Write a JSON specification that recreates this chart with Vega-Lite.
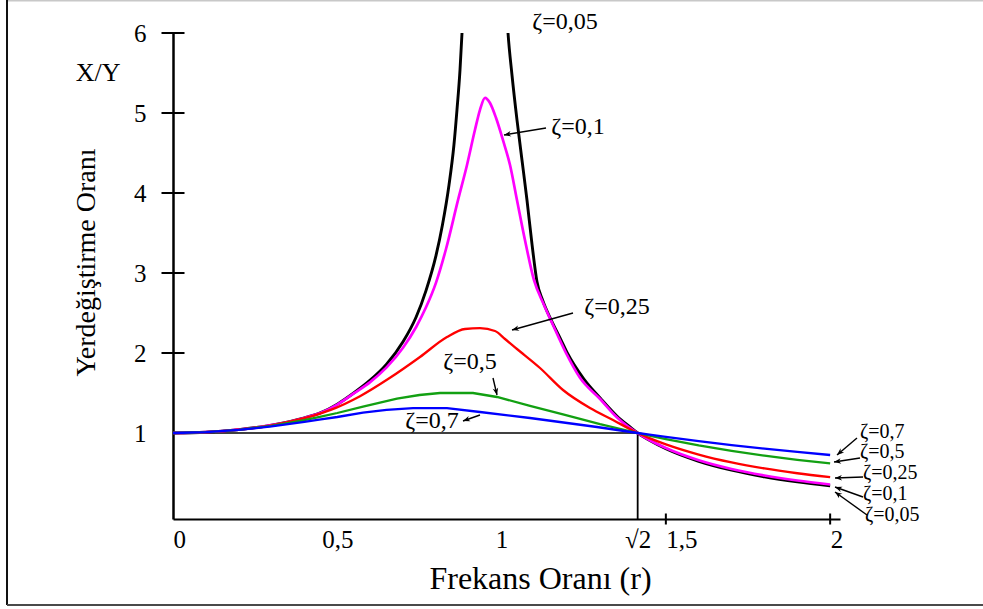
{
  "$schema": "https://vega.github.io/schema/vega-lite/v6.json",
  "width": 667,
  "height": 486,
  "autosize": {"type": "none"},
  "padding": {"left": 173, "top": 33, "right": 143, "bottom": 90},
  "background": "#ffffff",
  "config": {"view": {"stroke": null}, "font": "Liberation Serif"},
  "datasets": {
    "z005": [
      {"r": 0, "T": 1}, {"r": 0.1, "T": 1.01}, {"r": 0.2, "T": 1.042}, {"r": 0.3, "T": 1.099},
      {"r": 0.4, "T": 1.19}, {"r": 0.45, "T": 1.254}, {"r": 0.5, "T": 1.36}, {"r": 0.55, "T": 1.5},
      {"r": 0.6, "T": 1.66}, {"r": 0.65, "T": 1.86}, {"r": 0.7, "T": 2.14}, {"r": 0.74, "T": 2.45},
      {"r": 0.77, "T": 2.78}, {"r": 0.8, "T": 3.21}, {"r": 0.82, "T": 3.6}, {"r": 0.84, "T": 4.1},
      {"r": 0.855, "T": 4.6}, {"r": 0.8643, "T": 5.04}, {"r": 0.8735, "T": 5.54}, {"r": 0.8796, "T": 6.0},
      {"r": 0.893, "T": 7.4}, {"r": 0.915, "T": 9.0}, {"r": 0.945, "T": 10.0}, {"r": 0.975, "T": 9.5},
      {"r": 1.0, "T": 7.6}, {"r": 1.0196, "T": 6.0}, {"r": 1.0317, "T": 5.475}, {"r": 1.047, "T": 4.91},
      {"r": 1.0622, "T": 4.41}, {"r": 1.0774, "T": 3.91}, {"r": 1.0926, "T": 3.36}, {"r": 1.1078, "T": 2.89},
      {"r": 1.125, "T": 2.66}, {"r": 1.15, "T": 2.42}, {"r": 1.18, "T": 2.17}, {"r": 1.2, "T": 2.0}, {"r": 1.25, "T": 1.677},
      {"r": 1.3, "T": 1.437}, {"r": 1.35, "T": 1.216}, {"r": 1.3909, "T": 1.075}, {"r": 1.4142, "T": 1.0},
      {"r": 1.45, "T": 0.909}, {"r": 1.5, "T": 0.803}, {"r": 1.6, "T": 0.646}, {"r": 1.7, "T": 0.535},
      {"r": 1.8, "T": 0.452}, {"r": 1.9, "T": 0.389}, {"r": 2.0, "T": 0.339}
    ],
    "z01": [
      {"r": 0, "T": 1}, {"r": 0.1, "T": 1.01}, {"r": 0.2, "T": 1.042}, {"r": 0.3, "T": 1.098},
      {"r": 0.4, "T": 1.188}, {"r": 0.45, "T": 1.252}, {"r": 0.5, "T": 1.355}, {"r": 0.55, "T": 1.494},
      {"r": 0.6, "T": 1.636}, {"r": 0.65, "T": 1.82}, {"r": 0.7, "T": 2.065}, {"r": 0.74, "T": 2.325},
      {"r": 0.77, "T": 2.571}, {"r": 0.8, "T": 2.874}, {"r": 0.8309, "T": 3.3}, {"r": 0.8674, "T": 3.91},
      {"r": 0.8948, "T": 4.35}, {"r": 0.9191, "T": 4.79}, {"r": 0.9343, "T": 5.04}, {"r": 0.9496, "T": 5.19},
      {"r": 0.9648, "T": 5.125}, {"r": 0.983, "T": 4.94}, {"r": 1.0043, "T": 4.66}, {"r": 1.0257, "T": 4.35},
      {"r": 1.047, "T": 3.91}, {"r": 1.0713, "T": 3.41}, {"r": 1.0987, "T": 2.91}, {"r": 1.1291, "T": 2.6},
      {"r": 1.1565, "T": 2.35}, {"r": 1.1961, "T": 2.0}, {"r": 1.2387, "T": 1.69}, {"r": 1.3, "T": 1.425},
      {"r": 1.35, "T": 1.2}, {"r": 1.3848, "T": 1.08}, {"r": 1.4142, "T": 1.0}, {"r": 1.45, "T": 0.913},
      {"r": 1.5, "T": 0.812}, {"r": 1.6, "T": 0.659}, {"r": 1.7, "T": 0.55}, {"r": 1.8, "T": 0.469},
      {"r": 1.9, "T": 0.406}, {"r": 2.0, "T": 0.356}
    ],
    "z025": [
      {"r": 0, "T": 1}, {"r": 0.1, "T": 1.01}, {"r": 0.2, "T": 1.041}, {"r": 0.3, "T": 1.096},
      {"r": 0.4, "T": 1.185}, {"r": 0.45, "T": 1.245}, {"r": 0.4778, "T": 1.285}, {"r": 0.5691, "T": 1.46},
      {"r": 0.6604, "T": 1.69}, {"r": 0.7517, "T": 1.95}, {"r": 0.8339, "T": 2.2}, {"r": 0.8887, "T": 2.3},
      {"r": 0.9343, "T": 2.31}, {"r": 0.98, "T": 2.275}, {"r": 1.0104, "T": 2.175}, {"r": 1.047, "T": 2.05},
      {"r": 1.117, "T": 1.8125}, {"r": 1.187, "T": 1.5375}, {"r": 1.2691, "T": 1.3125}, {"r": 1.3391, "T": 1.1625},
      {"r": 1.4142, "T": 1.0}, {"r": 1.45, "T": 0.936}, {"r": 1.5, "T": 0.858}, {"r": 1.6, "T": 0.731},
      {"r": 1.7, "T": 0.633}, {"r": 1.8, "T": 0.557}, {"r": 1.9, "T": 0.497}, {"r": 2.0, "T": 0.447}
    ],
    "z05": [
      {"r": 0, "T": 1}, {"r": 0.1, "T": 1.01}, {"r": 0.2, "T": 1.04}, {"r": 0.3, "T": 1.09},
      {"r": 0.4, "T": 1.16}, {"r": 0.45, "T": 1.205}, {"r": 0.5, "T": 1.25}, {"r": 0.5783, "T": 1.33},
      {"r": 0.6817, "T": 1.43}, {"r": 0.75, "T": 1.475}, {"r": 0.8126, "T": 1.5}, {"r": 0.913, "T": 1.5},
      {"r": 0.9861, "T": 1.45}, {"r": 1.0865, "T": 1.34}, {"r": 1.187, "T": 1.233}, {"r": 1.2996, "T": 1.11},
      {"r": 1.4142, "T": 1.0}, {"r": 1.45, "T": 0.967}, {"r": 1.5, "T": 0.923}, {"r": 1.6, "T": 0.844},
      {"r": 1.7, "T": 0.776}, {"r": 1.8, "T": 0.717}, {"r": 1.9, "T": 0.665}, {"r": 2.0, "T": 0.62}
    ],
    "z07": [
      {"r": 0, "T": 1}, {"r": 0.1, "T": 1.01}, {"r": 0.2, "T": 1.038}, {"r": 0.3, "T": 1.082},
      {"r": 0.4, "T": 1.14}, {"r": 0.45, "T": 1.17}, {"r": 0.5, "T": 1.2}, {"r": 0.5783, "T": 1.255},
      {"r": 0.65, "T": 1.29}, {"r": 0.7304, "T": 1.31}, {"r": 0.8339, "T": 1.31}, {"r": 0.9343, "T": 1.2625},
      {"r": 1.0865, "T": 1.1875}, {"r": 1.2904, "T": 1.075}, {"r": 1.4142, "T": 1.0}, {"r": 1.45, "T": 0.98},
      {"r": 1.5, "T": 0.952}, {"r": 1.6, "T": 0.899}, {"r": 1.7, "T": 0.849}, {"r": 1.8, "T": 0.804},
      {"r": 1.9, "T": 0.763}, {"r": 2.0, "T": 0.725}
    ],
    "yTicks": [{"v": 2}, {"v": 3}, {"v": 4}, {"v": 5}, {"v": 6}],
    "xTicks": [{"v": 1.5}, {"v": 2}],
    "peakLabels": [
      {"label": "ζ=0,05", "r": 1.193, "T": 6.1375},
      {"label": "ζ=0,1", "r": 1.2326, "T": 4.825},
      {"label": "ζ=0,25", "r": 1.3513, "T": 2.575},
      {"label": "ζ=0,5", "r": 0.9039, "T": 1.8875},
      {"label": "ζ=0,7", "r": 0.7883, "T": 1.15}
    ],
    "endLabels": [
      {"label": "ζ=0,7", "r": 2.0909, "T": 1.0125},
      {"label": "ζ=0,5", "r": 2.0909, "T": 0.7625},
      {"label": "ζ=0,25", "r": 2.1, "T": 0.5},
      {"label": "ζ=0,1", "r": 2.1, "T": 0.2375},
      {"label": "ζ=0,05", "r": 2.1061, "T": -0.025}
    ],
    "arrows": [
      {"fx": 1.1352, "fy": 4.8125, "tx": 1.0074, "ty": 4.725},
      {"fx": 1.2174, "fy": 2.5, "tx": 1.0317, "ty": 2.2875},
      {"fx": 0.9739, "fy": 1.6875, "tx": 0.9861, "ty": 1.475},
      {"fx": 0.9343, "fy": 1.225, "tx": 0.8826, "ty": 1.15},
      {"fx": 2.0817, "fy": 0.9375, "tx": 2.0209, "ty": 0.725},
      {"fx": 2.0909, "fy": 0.6875, "tx": 2.0118, "ty": 0.6375},
      {"fx": 2.1, "fy": 0.45, "tx": 2.0148, "ty": 0.4375},
      {"fx": 2.1, "fy": 0.2, "tx": 2.0148, "ty": 0.325},
      {"fx": 2.1122, "fy": -0.025, "tx": 2.0148, "ty": 0.2625}
    ]
  },
  "layer": [
    {
      "data": {"name": "z005"},
      "mark": {"type": "line", "color": "#000000", "strokeWidth": 2.9, "interpolate": "monotone", "clip": true},
      "encoding": {
        "x": {
          "field": "r", "type": "quantitative",
          "scale": {"domain": [0, 2.03], "nice": false, "zero": false},
          "axis": {
            "values": [0, 0.5, 1, 1.4142135623730951, 1.5, 2],
            "labelExpr": "datum.value == 0 ? '0' : datum.value == 0.5 ? '0,5' : datum.value == 1 ? '1' : datum.value == 1.5 ? '1,5' : datum.value == 2 ? '2' : '√2'",
            "labelAlign": {"condition": {"test": "datum.value == 0 || datum.value == 1.5 || datum.value == 2", "value": "left"}, "value": "center"},
            "ticks": false, "grid": false,
            "domainColor": "#000000", "domainWidth": 2,
            "labelFont": "Liberation Serif", "labelFontSize": 25, "labelColor": "#000000",
            "labelPadding": 8, "labelOverlap": false, "labelFlush": false, "labelBound": false,
            "title": "Frekans Oranı (r)", "titleFont": "Liberation Serif", "titleFontSize": 32,
            "titleFontWeight": "normal", "titleColor": "#000000",
            "titleX": 367, "titleY": 59, "titleAlign": "center", "titleBaseline": "middle"
          }
        },
        "y": {
          "field": "T", "type": "quantitative",
          "scale": {"domain": [-0.075, 6], "nice": false, "zero": false},
          "axis": {
            "values": [1, 2, 3, 4, 5, 6], "format": "d",
            "ticks": false, "grid": false,
            "domainColor": "#000000", "domainWidth": 2.5,
            "labelFont": "Liberation Serif", "labelFontSize": 25, "labelColor": "#000000",
            "labelPadding": 27, "labelOverlap": false, "labelFlush": false,
            "title": "Yerdeğiştirme Oranı", "titleFont": "Liberation Serif", "titleFontSize": 28,
            "titleFontWeight": "normal", "titleColor": "#000000", "titleAngle": -90,
            "titleX": -87, "titleY": 229, "titleAlign": "center", "titleBaseline": "middle"
          }
        }
      }
    },
    {
      "data": {"values": [{}]},
      "mark": {"type": "rule", "color": "#c8c8c8", "strokeWidth": 1.5},
      "encoding": {
        "x": {"datum": -0.5052, "type": "quantitative", "scale": {"domain": [0, 2.03], "nice": false, "zero": false}},
        "x2": {"datum": 2.4652},
        "y": {"datum": 6.403, "type": "quantitative", "scale": {"domain": [-0.075, 6], "nice": false, "zero": false}}
      }
    },
    {
      "data": {"values": [{}]},
      "mark": {"type": "rule", "color": "#111111", "strokeWidth": 2},
      "encoding": {
        "x": {"datum": -0.5052, "type": "quantitative", "scale": {"domain": [0, 2.03], "nice": false, "zero": false}},
        "y": {"datum": 6.4125, "type": "quantitative", "scale": {"domain": [-0.075, 6], "nice": false, "zero": false}},
        "y2": {"datum": -1.15}
      }
    },
    {
      "data": {"values": [{}]},
      "mark": {"type": "rule", "color": "#4a4a4a", "strokeWidth": 2},
      "encoding": {
        "x": {"datum": -0.5052, "type": "quantitative", "scale": {"domain": [0, 2.03], "nice": false, "zero": false}},
        "x2": {"datum": 2.4652},
        "y": {"datum": -1.15, "type": "quantitative", "scale": {"domain": [-0.075, 6], "nice": false, "zero": false}}
      }
    },
    {
      "data": {"values": [{}]},
      "mark": {"type": "rule", "color": "#000000", "strokeWidth": 1.6},
      "encoding": {
        "x": {"datum": 0, "type": "quantitative", "scale": {"domain": [0, 2.03], "nice": false, "zero": false}},
        "x2": {"datum": 1.4142},
        "y": {"datum": 1, "type": "quantitative", "scale": {"domain": [-0.075, 6], "nice": false, "zero": false}}
      }
    },
    {
      "data": {"values": [{}]},
      "mark": {"type": "rule", "color": "#000000", "strokeWidth": 1.8},
      "encoding": {
        "x": {"datum": 1.4142, "type": "quantitative", "scale": {"domain": [0, 2.03], "nice": false, "zero": false}},
        "y": {"datum": 1, "type": "quantitative", "scale": {"domain": [-0.075, 6], "nice": false, "zero": false}},
        "y2": {"datum": -0.075}
      }
    },
    {
      "data": {"name": "z01"},
      "mark": {"type": "line", "color": "#ff00ff", "strokeWidth": 2.7, "interpolate": "monotone"},
      "encoding": {
        "x": {"field": "r", "type": "quantitative", "scale": {"domain": [0, 2.03], "nice": false, "zero": false}},
        "y": {"field": "T", "type": "quantitative", "scale": {"domain": [-0.075, 6], "nice": false, "zero": false}}
      }
    },
    {
      "data": {"name": "z025"},
      "mark": {"type": "line", "color": "#ff0000", "strokeWidth": 2.3, "interpolate": "monotone"},
      "encoding": {
        "x": {"field": "r", "type": "quantitative", "scale": {"domain": [0, 2.03], "nice": false, "zero": false}},
        "y": {"field": "T", "type": "quantitative", "scale": {"domain": [-0.075, 6], "nice": false, "zero": false}}
      }
    },
    {
      "data": {"name": "z05"},
      "mark": {"type": "line", "color": "#12a012", "strokeWidth": 2.3},
      "encoding": {
        "x": {"field": "r", "type": "quantitative", "scale": {"domain": [0, 2.03], "nice": false, "zero": false}},
        "y": {"field": "T", "type": "quantitative", "scale": {"domain": [-0.075, 6], "nice": false, "zero": false}}
      }
    },
    {
      "data": {"name": "z07"},
      "mark": {"type": "line", "color": "#0000ff", "strokeWidth": 2.3},
      "encoding": {
        "x": {"field": "r", "type": "quantitative", "scale": {"domain": [0, 2.03], "nice": false, "zero": false}},
        "y": {"field": "T", "type": "quantitative", "scale": {"domain": [-0.075, 6], "nice": false, "zero": false}}
      }
    },
    {
      "data": {"name": "yTicks"},
      "mark": {"type": "tick", "orient": "horizontal", "size": 23, "thickness": 2, "color": "#000000", "opacity": 1},
      "encoding": {
        "x": {"datum": 0, "type": "quantitative", "scale": {"domain": [0, 2.03], "nice": false, "zero": false}},
        "y": {"field": "v", "type": "quantitative", "scale": {"domain": [-0.075, 6], "nice": false, "zero": false}}
      }
    },
    {
      "data": {"name": "xTicks"},
      "mark": {"type": "tick", "orient": "vertical", "size": 11, "thickness": 2, "color": "#000000", "opacity": 1},
      "encoding": {
        "x": {"field": "v", "type": "quantitative", "scale": {"domain": [0, 2.03], "nice": false, "zero": false}},
        "y": {"datum": -0.075, "type": "quantitative", "scale": {"domain": [-0.075, 6], "nice": false, "zero": false}}
      }
    },
    {
      "data": {"name": "arrows"},
      "mark": {"type": "rule", "color": "#000000", "strokeWidth": 1.4},
      "encoding": {
        "x": {"field": "fx", "type": "quantitative", "scale": {"domain": [0, 2.03], "nice": false, "zero": false}},
        "y": {"field": "fy", "type": "quantitative", "scale": {"domain": [-0.075, 6], "nice": false, "zero": false}},
        "x2": {"field": "tx"},
        "y2": {"field": "ty"}
      }
    },
    {
      "data": {"name": "arrows"},
      "mark": {
        "type": "point", "shape": "M0,0L-1,-0.4L-0.7,0L-1,0.4Z", "filled": true,
        "color": "#000000", "opacity": 1, "size": 196,
        "angle": {"expr": "atan2(scale('y', datum.ty) - scale('y', datum.fy), scale('x', datum.tx) - scale('x', datum.fx)) * 180 / PI"}
      },
      "encoding": {
        "x": {"field": "tx", "type": "quantitative", "scale": {"domain": [0, 2.03], "nice": false, "zero": false}},
        "y": {"field": "ty", "type": "quantitative", "scale": {"domain": [-0.075, 6], "nice": false, "zero": false}}
      }
    },
    {
      "data": {"name": "peakLabels"},
      "mark": {"type": "text", "font": "Liberation Serif", "fontSize": 24, "align": "center", "baseline": "middle", "color": "#000000"},
      "encoding": {
        "x": {"field": "r", "type": "quantitative", "scale": {"domain": [0, 2.03], "nice": false, "zero": false}},
        "y": {"field": "T", "type": "quantitative", "scale": {"domain": [-0.075, 6], "nice": false, "zero": false}},
        "text": {"field": "label"}
      }
    },
    {
      "data": {"name": "endLabels"},
      "mark": {"type": "text", "font": "Liberation Serif", "fontSize": 20, "align": "left", "baseline": "middle", "color": "#000000"},
      "encoding": {
        "x": {"field": "r", "type": "quantitative", "scale": {"domain": [0, 2.03], "nice": false, "zero": false}},
        "y": {"field": "T", "type": "quantitative", "scale": {"domain": [-0.075, 6], "nice": false, "zero": false}},
        "text": {"field": "label"}
      }
    },
    {
      "data": {"values": [{}]},
      "mark": {"type": "text", "font": "Liberation Serif", "fontSize": 26, "align": "center", "baseline": "middle", "color": "#000000"},
      "encoding": {
        "x": {"datum": -0.228, "type": "quantitative", "scale": {"domain": [0, 2.03], "nice": false, "zero": false}},
        "y": {"datum": 5.5, "type": "quantitative", "scale": {"domain": [-0.075, 6], "nice": false, "zero": false}},
        "text": {"value": "X/Y"}
      }
    }
  ]
}
